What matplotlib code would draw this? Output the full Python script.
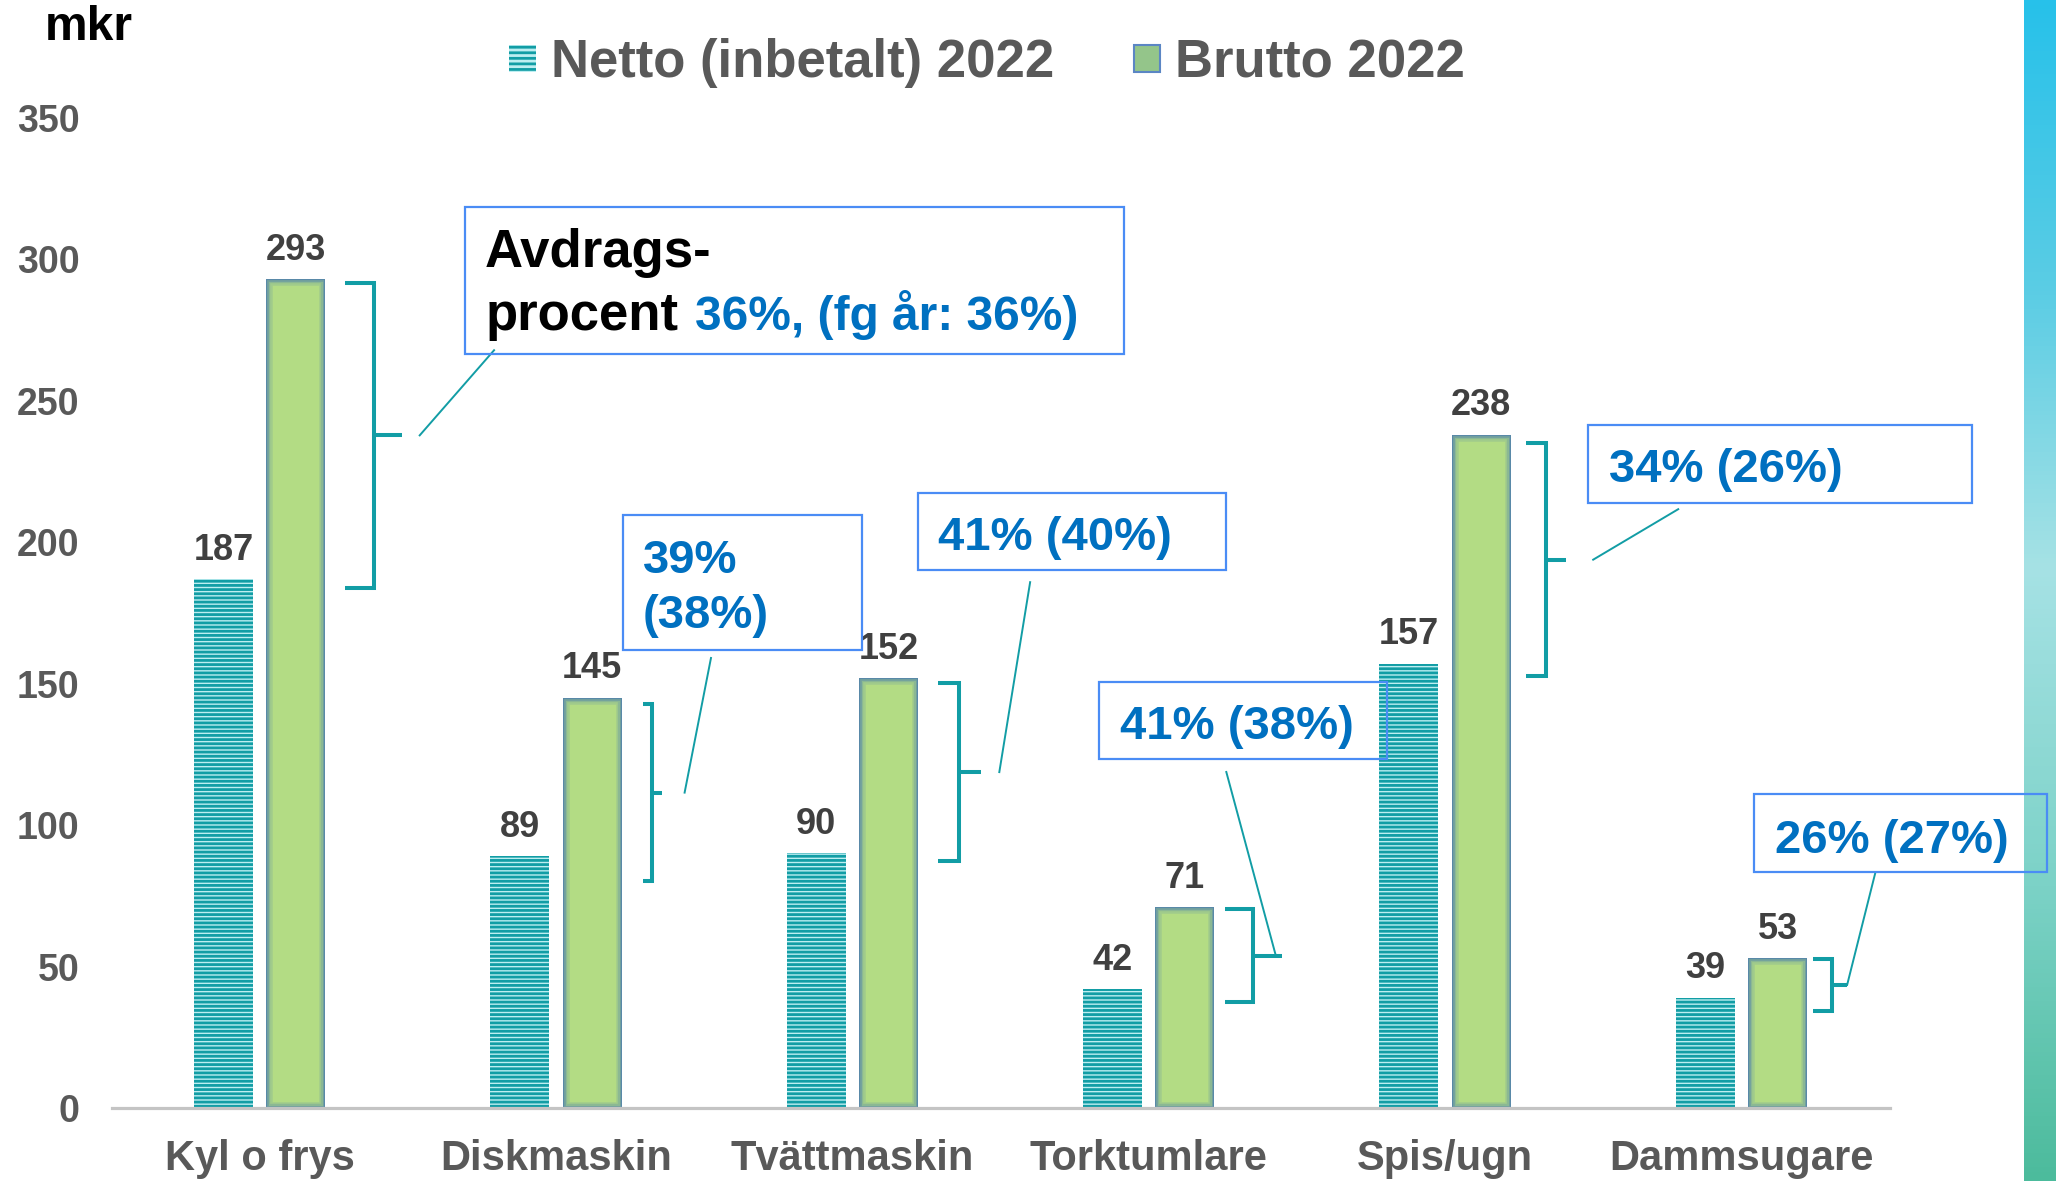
import matplotlib
matplotlib.use("Agg")
import matplotlib.pyplot as plt
from matplotlib.patches import Rectangle
from matplotlib.colors import LinearSegmentedColormap
import numpy as np

# ---------------- data ----------------
categories = ["Kyl o frys", "Diskmaskin", "Tvättmaskin", "Torktumlare", "Spis/ugn", "Dammsugare"]
netto = [187, 89, 90, 42, 157, 39]
brutto = [293, 145, 152, 71, 238, 53]
series_names = ["Netto (inbetalt) 2022", "Brutto 2022"]
pct_labels = ["36%, (fg år: 36%)", "39%\n(38%)", "41% (40%)", "41% (38%)", "34% (26%)", "26% (27%)"]
y_ticks = [0, 50, 100, 150, 200, 250, 300, 350]
unit_label = "mkr"

# ---------------- layout (annotation geometry, data units) ----------------
# bracket: (left tick x-offset, vertical x-offset, mid tick x-offset, leader start x-offset, low, high)
brackets = [
    (0.288, 0.385, 0.482, 0.540, 184.0, 291.6),
    (0.292, 0.323, 0.358, 0.434, 80.2, 142.8),
    (0.290, 0.361, 0.434, 0.496, 87.3, 150.2),
    (0.259, 0.352, 0.451, 0.429, 37.5, 70.3),
    (0.274, 0.341, 0.407, 0.500, 152.7, 235.0),
    (0.243, 0.305, 0.357, 0.357, 34.3, 52.7),
]
leader_end = [(0.791, 267.9), (1.523, 159.1), (2.600, 185.9), (3.262, 118.8), (4.787, 211.7), (5.452, 83.1)]
boxes = [  # x0, x1, y_bottom, y_top
    (0.693, 2.917, 266.5, 318.5),
    (1.226, 2.033, 161.9, 209.6),
    (2.222, 3.262, 190.2, 217.4),
    (2.833, 3.805, 123.4, 150.6),
    (4.483, 5.779, 213.9, 241.4),
    (5.044, 6.033, 83.4, 111.0),
]
text_pos = [(0.761, 297.3), (1.294, 189.1), (2.290, 197.2), (2.904, 130.4), (4.554, 221.3), (5.115, 90.1)]

W, H = 2056, 1181
DPI = 100
FONT = ["Liberation Sans", "DejaVu Sans"]
plt.rcParams["font.family"] = FONT
plt.rcParams["font.weight"] = "bold"
plt.rcParams["hatch.linewidth"] = 2.0

TEAL = "#129da5"
STRIPE_BG = "#bdeef1"
GREEN = "#b3dc84"
GREEN_EDGE = "#4f80ae"
BLUE_TXT = "#0070c0"
BOX_EDGE = "#4a8cf5"
GRAY = "#595959"
VAL = "#404040"

fig = plt.figure(figsize=(W / DPI, H / DPI), dpi=DPI)
fig.patch.set_facecolor("white")

def fx(px):
    return px / W

def fy(py):
    return 1 - py / H

# gradient strip on right edge
sax = fig.add_axes([fx(2024), 0, fx(2056) - fx(2024), 1])
cmap = LinearSegmentedColormap.from_list(
    "strip", [(0, "#27c1ea"), (0.25, "#5ccde4"), (0.48, "#a6e2e5"), (0.75, "#7cd2c7"), (1.0, "#4cbb9c")])
sax.imshow(np.linspace(0, 1, 256).reshape(-1, 1), aspect="auto", cmap=cmap, extent=[0, 1, 1, 0])
sax.set_axis_off()

ax = fig.add_axes([fx(111.5), fy(1108), (1889.5 - 111.5) / W, (1108 - 118) / H])
ax.patch.set_alpha(0)

x = np.arange(len(categories))
bw = 0.199
off = 0.122
ax.bar(x - off, netto, bw, color=STRIPE_BG, edgecolor=TEAL, hatch="----", linewidth=0, zorder=2)
gbars = ax.bar(x + off, brutto, bw, color=GREEN, edgecolor="none", linewidth=0, zorder=2)

# soft inner glow on brutto bars: thick edges clipped to each bar
for rect in gbars:
    for lw, a in [(9, 0.18), (6, 0.25), (3.5, 0.4), (1.6, 0.7)]:
        g = Rectangle(rect.get_xy(), rect.get_width(), rect.get_height(), fill=False,
                      edgecolor=GREEN_EDGE, alpha=a, linewidth=lw, zorder=2.1)
        ax.add_patch(g)
        g.set_clip_path(rect)

for xi, v in zip(x - off, netto):
    ax.annotate(str(v), (xi, v), xytext=(0, 14), textcoords="offset points",
                ha="center", va="baseline", fontsize=26, color=VAL, fontweight="bold")
for xi, v in zip(x + off, brutto):
    ax.annotate(str(v), (xi, v), xytext=(0, 14), textcoords="offset points",
                ha="center", va="baseline", fontsize=26, color=VAL, fontweight="bold")

ax.set_xlim(-0.5, 5.5)
ax.set_ylim(0, 350)
ax.set_yticks(y_ticks)
ax.set_yticklabels([str(t) for t in y_ticks])
ax.set_xticks(x)
ax.set_xticklabels(categories)
ax.tick_params(axis="y", length=0, pad=23, labelsize=27, labelcolor=GRAY)
ax.tick_params(axis="x", length=0, pad=22, labelsize=30, labelcolor=GRAY)
for lab in ax.get_xticklabels() + ax.get_yticklabels():
    lab.set_fontweight("bold")
for s in ["top", "right", "left"]:
    ax.spines[s].set_visible(False)
ax.spines["bottom"].set_color("#c4c4c4")
ax.spines["bottom"].set_linewidth(2.3)
ax.spines["bottom"].set_zorder(3)

# brackets, leaders, boxes, labels
for i in range(len(categories)):
    lt, vt, mt, ls, lo, hi = brackets[i]
    mid = (lo + hi) / 2
    ax.plot([i + lt, i + vt, i + vt, i + lt], [hi, hi, lo, lo], color=TEAL, lw=2.9,
            solid_joinstyle="miter", solid_capstyle="butt", zorder=4, clip_on=False)
    ax.plot([i + vt, i + mt], [mid, mid], color=TEAL, lw=2.9, solid_capstyle="butt", zorder=4, clip_on=False)
    ex, ey = leader_end[i]
    ax.plot([i + ls, ex], [mid, ey], color=TEAL, lw=1.4, zorder=4, clip_on=False)
    x0, x1, y0, y1 = boxes[i]
    ax.add_patch(Rectangle((x0, y0), x1 - x0, y1 - y0, facecolor="none", edgecolor=BOX_EDGE,
                           lw=1.6, zorder=5, clip_on=False))

# box texts
tx, ty = text_pos[0]
ax.text(tx, ty, "Avdrags-", fontsize=38, color="black", fontweight="bold", va="baseline", ha="left", zorder=6, clip_on=False)
ax.text(tx, 275.0, "procent", fontsize=38, color="black", fontweight="bold", va="baseline", ha="left", zorder=6, clip_on=False)
ax.text(1.470, 275.0, pct_labels[0], fontsize=34.5, color=BLUE_TXT, fontweight="bold", va="baseline", ha="left", zorder=6, clip_on=False)

l1, l2 = pct_labels[1].split("\n")
tx, ty = text_pos[1]
ax.text(tx, ty, l1, fontsize=34, color=BLUE_TXT, fontweight="bold", va="baseline", ha="left", zorder=6, clip_on=False)
ax.text(tx, 169.7, l2, fontsize=34, color=BLUE_TXT, fontweight="bold", va="baseline", ha="left", zorder=6, clip_on=False)
for i in range(2, len(categories)):
    tx, ty = text_pos[i]
    ax.text(tx, ty, pct_labels[i], fontsize=34, color=BLUE_TXT, fontweight="bold", va="baseline",
            ha="left", zorder=6, clip_on=False)

# unit label
fig.text(fx(45), fy(40), unit_label, fontsize=34.5, color="black", fontweight="bold", va="baseline", ha="left")

# legend (manual)
fig.patches.append(Rectangle((fx(509), fy(72)), fx(536) - fx(509), fy(45) - fy(72), transform=fig.transFigure,
                             facecolor=STRIPE_BG, edgecolor=TEAL, hatch="---", linewidth=0, figure=fig))
fig.patches.append(Rectangle((fx(1134), fy(72)), fx(1160) - fx(1134), fy(45) - fy(72), transform=fig.transFigure,
                             facecolor="#94c58a", edgecolor="#5b86c4", linewidth=1.5, figure=fig))
fig.text(fx(551), fy(77), series_names[0], fontsize=38, color=GRAY, fontweight="bold", va="baseline", ha="left")
fig.text(fx(1175), fy(77), series_names[1], fontsize=38, color=GRAY, fontweight="bold", va="baseline", ha="left")

fig.savefig("out.png", dpi=DPI)
